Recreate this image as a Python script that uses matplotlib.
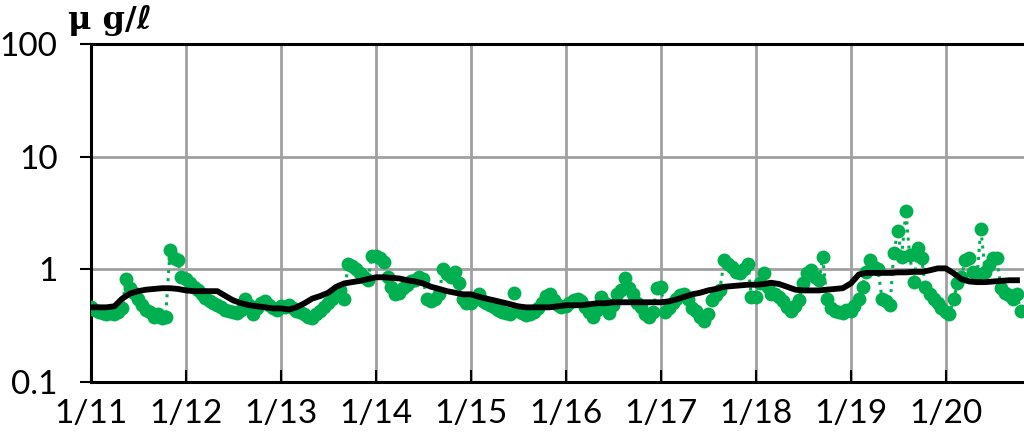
import numpy as np
import pandas as pd
import matplotlib
matplotlib.use("Agg")
import matplotlib.pyplot as plt
import matplotlib.ticker as mticker
from datetime import datetime

plt.rcParams['font.family'] = ['Lato', 'DejaVu Sans']

# measured values, two per month (1st and 15th), Jan 2011 .. Oct 2020
green2011 = [0.46, 0.44, 0.42, 0.41, 0.40, 0.41, 0.40, 0.42, 0.45, 0.82, 0.68, 0.62,
             0.55, 0.48, 0.44, 0.42, 0.38, 0.40, 0.37, 0.38, 1.47, 1.25, 1.20, 0.85]
green2012 = [0.82, 0.75, 0.70, 0.65, 0.60, 0.56, 0.52, 0.50, 0.48, 0.46, 0.44, 0.43,
             0.42, 0.41, 0.44, 0.55, 0.48, 0.40, 0.45, 0.50, 0.52, 0.48, 0.45, 0.44]
green2013 = [0.47, 0.46, 0.48, 0.45, 0.43, 0.42, 0.40, 0.38, 0.37, 0.40, 0.43, 0.46,
             0.50, 0.55, 0.62, 0.66, 0.55, 1.12, 1.08, 1.00, 0.92, 0.85, 0.80, 1.30]
green2014 = [1.30, 1.25, 1.15, 0.85, 0.70, 0.60, 0.62, 0.68, 0.72, 0.78, 0.80, 0.85,
             0.82, 0.55, 0.52, 0.54, 0.60, 1.00, 0.90, 0.85, 0.95, 0.75, 0.55, 0.50]
green2015 = [0.50, 0.55, 0.60, 0.52, 0.50, 0.48, 0.46, 0.44, 0.42, 0.41, 0.40, 0.62,
             0.43, 0.41, 0.39, 0.40, 0.42, 0.45, 0.50, 0.58, 0.60, 0.53, 0.48, 0.46]
green2016 = [0.47, 0.50, 0.53, 0.55, 0.52, 0.46, 0.42, 0.38, 0.44, 0.57, 0.50, 0.41,
             0.48, 0.61, 0.65, 0.83, 0.68, 0.60, 0.50, 0.46, 0.40, 0.38, 0.42, 0.68]
green2017 = [0.69, 0.42, 0.45, 0.50, 0.55, 0.59, 0.61, 0.55, 0.45, 0.43, 0.38, 0.35,
             0.40, 0.53, 0.59, 0.65, 1.20, 1.12, 1.05, 0.95, 0.92, 1.00, 1.12, 0.57]
green2018 = [0.57, 0.75, 0.92, 0.69, 0.61, 0.60, 0.57, 0.52, 0.46, 0.43, 0.47, 0.53,
             0.75, 0.92, 0.98, 0.85, 0.80, 1.28, 0.55, 0.45, 0.43, 0.42, 0.41, 0.44]
green2019 = [0.43, 0.47, 0.55, 0.70, 0.95, 1.20, 1.05, 1.00, 0.55, 0.52, 0.48, 1.40,
             2.20, 1.28, 3.30, 1.33, 0.77, 1.55, 1.25, 0.69, 0.60, 0.55, 0.50, 0.45]
green2020 = [0.42, 0.40, 0.55, 0.75, 0.85, 1.20, 1.25, 0.94, 0.90, 2.30,
             0.94, 1.10, 1.25, 1.25, 0.68, 0.62, 0.59, 0.55, 0.60, 0.43]

# moving average line, one value per month
avg2011 = [0.46, 0.46, 0.46, 0.47, 0.55, 0.61, 0.64, 0.66, 0.67, 0.68, 0.68, 0.67]
avg2012 = [0.65, 0.64, 0.64, 0.64, 0.64, 0.58, 0.53, 0.50, 0.48, 0.47, 0.46, 0.45]
avg2013 = [0.45, 0.44, 0.46, 0.50, 0.55, 0.58, 0.62, 0.70, 0.75, 0.77, 0.79, 0.82]
avg2014 = [0.85, 0.85, 0.84, 0.83, 0.80, 0.78, 0.75, 0.70, 0.67, 0.64, 0.62, 0.60]
avg2015 = [0.60, 0.57, 0.55, 0.53, 0.51, 0.49, 0.47, 0.46, 0.46, 0.46, 0.46, 0.47]
avg2016 = [0.48, 0.48, 0.48, 0.49, 0.50, 0.50, 0.51, 0.51, 0.51, 0.51, 0.51, 0.51]
avg2017 = [0.51, 0.52, 0.54, 0.57, 0.60, 0.62, 0.65, 0.67, 0.70, 0.71, 0.72, 0.73]
avg2018 = [0.73, 0.74, 0.76, 0.74, 0.70, 0.66, 0.65, 0.65, 0.65, 0.66, 0.67, 0.68]
avg2019 = [0.75, 0.90, 0.93, 0.93, 0.93, 0.93, 0.94, 0.94, 0.95, 0.95, 0.98, 1.02]
avg2020 = [1.02, 0.92, 0.82, 0.78, 0.77, 0.77, 0.78, 0.79, 0.80, 0.80]

greenVals = (green2011 + green2012 + green2013 + green2014 + green2015 +
             green2016 + green2017 + green2018 + green2019 + green2020)
avgVals = (avg2011 + avg2012 + avg2013 + avg2014 + avg2015 +
           avg2016 + avg2017 + avg2018 + avg2019 + avg2020)

greenDates = pd.date_range("2011-01-01", periods=len(greenVals), freq="SMS")
avgDates = pd.date_range("2011-01-01", periods=len(avgVals), freq="MS")

tickYears = list(range(2011, 2021))
tickLabels = [f"1/{y % 100}" for y in tickYears]

fig = plt.figure(figsize=(10.24, 4.34), dpi=100)
ax = fig.add_axes([91 / 1024, 1 - 382 / 434, 1 - 91 / 1024, (382 - 44) / 434])

ax.plot(greenDates, greenVals, color="#00b050", linestyle=":", linewidth=2.2,
        marker="o", markersize=10, markeredgewidth=0, zorder=3)
ax.plot(avgDates, avgVals, color="black", linewidth=4.2, zorder=4)

ax.set_yscale("log")
ax.set_ylim(0.1, 100)
ax.set_xlim(datetime(2011, 1, 1), datetime(2020, 10, 28))

ax.yaxis.set_major_locator(mticker.FixedLocator([0.1, 1, 10, 100]))
ax.yaxis.set_major_formatter(mticker.FixedFormatter(["0.1", "1", "10", "100"]))
ax.yaxis.set_minor_locator(mticker.NullLocator())

ax.set_xticks([datetime(y, 1, 1) for y in tickYears])
ax.set_xticklabels(tickLabels)

ax.grid(True, color="#a0a0a0", linewidth=2)
ax.set_axisbelow(True)

for side in ["left", "bottom", "top"]:
    ax.spines[side].set_linewidth(2.2)
    ax.spines[side].set_color("black")
ax.spines["right"].set_visible(False)

ax.tick_params(axis="y", direction="out", length=8, width=1.5, labelsize=24, pad=16)
ax.tick_params(axis="x", direction="in", length=9, width=1.5, labelsize=24, pad=12)

fig.text(68 / 1024, 1 - 20 / 434, "μ g/ℓ", fontsize=23, fontweight="bold",
         family=["DejaVu Serif", "DejaVu Sans"], va="center", ha="left")

fig.savefig("out.png", dpi=100)
